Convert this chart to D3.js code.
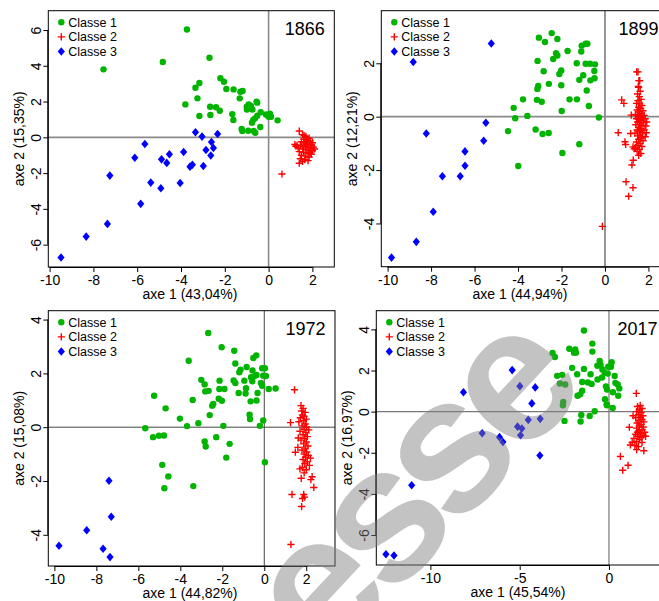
<!DOCTYPE html>
<html><head><meta charset="utf-8">
<script src="https://cdn.jsdelivr.net/npm/d3@7"></script>
<style>body{margin:0;background:#fff}svg{display:block}text{font-family:"Liberation Sans",Arial,sans-serif}</style>
</head><body><div id="chart"></div>
<script>
// ---------------- DATA ----------------
const classes = ["Classe 1", "Classe 2", "Classe 3"];
const years = ["1866", "1899", "1972", "2017"];
const xLabels = ["axe 1 (43,04%)", "axe 1 (44,94%)", "axe 1 (44,82%)", "axe 1 (45,54%)"];
const yLabels = ["axe 2 (15,35%)", "axe 2 (12,21%)", "axe 2 (15,08%)", "axe 2 (16,97%)"];
const xTicks = [[-10,-8,-6,-4,-2,0,2],[-10,-8,-6,-4,-2,0,2],[-10,-8,-6,-4,-2,0,2],[-10,-5,0]];
const yTicks = [[-6,-4,-2,0,2,4,6],[-4,-2,0,2],[-4,-2,0,2,4],[-6,-4,-2,0,2,4]];

// 1866
const c1_1866 = [[-3.73,6.03],[-7.54,3.80],[-4.83,4.21],[-2.70,4.45],[-2.20,3.31],[-2.04,3.11],[-3.16,3.04],[-3.34,2.77],[-1.93,2.70],[-1.60,2.68],[-1.29,2.55],[-1.19,2.59],[-3.25,2.18],[-1.32,2.18],[-0.55,1.99],[-0.52,1.94],[-0.91,1.84],[-1.00,1.71],[-0.81,1.75],[-0.99,1.56],[-0.74,1.56],[-3.80,1.84],[-2.67,1.71],[-2.40,1.68],[-2.23,1.49],[-2.66,1.25],[-3.16,1.19],[-1.66,1.30],[-1.61,0.97],[-0.36,1.40],[-0.12,1.28],[0.06,1.32],[0.00,1.15],[0.11,1.15],[-0.52,1.21],[-0.62,1.06],[-0.70,0.97],[0.41,0.95],[-0.76,0.82],[-0.38,0.58],[-1.23,0.47],[-1.20,0.35],[-0.93,0.37],[-0.68,0.35],[-0.61,0.26]];
const c2_1866 = [[1.40,0.35],[1.55,0.15],[1.70,0.05],[1.85,-0.05],[1.60,-0.10],[1.75,-0.15],[1.90,-0.20],[2.00,-0.30],[1.50,-0.25],[1.65,-0.30],[1.80,-0.35],[1.95,-0.40],[1.30,-0.45],[1.45,-0.45],[1.60,-0.50],[1.75,-0.55],[1.90,-0.60],[2.05,-0.55],[1.20,-0.40],[1.55,-0.65],[1.70,-0.70],[1.85,-0.75],[2.00,-0.75],[1.40,-0.80],[1.60,-0.85],[1.80,-0.90],[1.95,-0.95],[1.50,-1.00],[1.70,-1.05],[1.85,-1.10],[1.45,-1.20],[1.65,-1.25],[1.80,-1.30],[1.40,-1.45],[1.55,-1.35],[1.90,-0.85],[2.10,-0.65],[1.35,-0.60],[1.25,-0.50],[1.70,-0.40],[1.62,0.10],[1.78,-0.22],[1.92,-0.48],[0.61,-2.05]];
const c3_1866 = [[-3.34,0.28],[-2.33,0.19],[-3.04,0.04],[-5.65,-0.37],[-2.61,-0.26],[-2.52,-0.60],[-2.86,-0.71],[-3.88,-0.82],[-4.53,-0.95],[-6.11,-1.14],[-4.89,-1.23],[-4.65,-1.43],[-2.64,-1.02],[-3.48,-1.53],[-3.59,-1.64],[-2.98,-1.60],[-7.25,-2.14],[-5.38,-2.53],[-4.04,-2.55],[-4.92,-2.85],[-5.84,-3.72],[-7.36,-4.84],[-8.33,-5.55],[-9.48,-6.72]];

// 1899
const c1_1899 = [[-3.04,2.96],[-2.45,3.13],[-2.76,2.80],[-2.19,2.91],[-1.07,2.66],[-0.89,2.73],[-0.81,2.73],[-1.09,2.44],[-1.72,2.46],[-2.25,2.38],[-2.19,2.29],[-2.38,2.16],[-3.10,2.09],[-1.30,2.00],[-0.89,1.98],[-0.69,1.98],[-0.46,1.96],[-0.49,1.71],[-2.82,1.70],[-2.01,1.73],[-2.10,1.60],[-1.00,1.55],[-1.18,1.38],[-0.48,1.44],[-0.67,1.36],[-2.58,1.23],[-2.01,1.18],[-3.07,1.15],[-3.11,1.04],[-0.84,0.98],[-3.77,0.65],[-3.13,0.63],[-2.91,0.56],[-1.63,0.65],[-1.29,0.65],[-0.74,0.40],[-1.99,0.21],[-4.20,0.33],[-4.13,-0.06],[-3.57,0.03],[-0.28,-0.03],[-4.46,-0.54],[-3.19,-0.48],[-2.87,-0.65],[-2.59,-0.61],[-1.18,-1.03],[-1.96,-1.36],[-3.99,-1.85]];
const c2_1899 = [[1.52,1.68],[1.60,1.35],[1.55,1.10],[1.62,0.95],[1.50,0.85],[1.58,0.75],[1.66,0.65],[1.52,0.60],[1.45,0.50],[1.60,0.48],[1.70,0.42],[1.55,0.35],[1.64,0.30],[1.48,0.25],[1.75,0.22],[1.58,0.18],[1.68,0.12],[1.40,0.08],[1.52,0.05],[1.80,0.05],[1.62,0.00],[1.72,-0.04],[1.45,-0.08],[1.56,-0.10],[1.85,-0.08],[1.66,-0.15],[1.50,-0.20],[1.78,-0.22],[1.60,-0.28],[1.42,-0.30],[1.70,-0.33],[1.88,-0.35],[1.55,-0.40],[1.65,-0.45],[1.48,-0.50],[1.80,-0.50],[1.58,-0.55],[1.72,-0.60],[1.38,-0.62],[1.62,-0.68],[1.50,-0.72],[1.85,-0.75],[1.68,-0.80],[1.55,-0.85],[1.75,-0.90],[1.45,-0.95],[1.62,-1.00],[1.52,-1.08],[1.70,-1.12],[1.40,-1.15],[1.58,-1.22],[1.48,-1.30],[1.65,-1.38],[1.55,-1.45],[1.35,-1.20],[1.92,-0.20],[1.90,-0.60],[0.61,-0.60],[0.77,0.63],[0.87,0.50],[0.92,-0.94],[0.95,-1.04],[0.97,-2.44],[1.29,-2.66],[1.09,-2.98],[-0.12,-4.11],[1.21,0.06],[1.18,-0.63],[1.29,-1.13],[1.24,-1.81],[1.30,-1.63],[1.46,1.68],[1.56,1.35],[1.53,1.13]];
const c3_1899 = [[-5.23,2.74],[-8.82,2.05],[-8.22,-0.63],[-5.48,-0.23],[-5.58,-0.90],[-6.44,-1.30],[-6.44,-1.84],[-7.48,-2.23],[-6.66,-2.23],[-7.90,-3.56],[-8.68,-4.69],[-9.82,-5.28]];

// 1972
const c1_1972 = [[-2.67,3.50],[-2.03,2.97],[-1.43,2.84],[-3.60,2.47],[-1.38,2.37],[-0.38,2.67],[-0.52,2.57],[-0.84,2.24],[-1.13,2.14],[-1.19,2.04],[-0.10,2.19],[0.03,2.19],[-0.56,2.11],[-0.37,1.94],[-0.49,1.89],[-0.05,1.91],[0.08,1.90],[-0.63,1.86],[-0.95,1.73],[-0.57,1.71],[-1.46,1.74],[-1.38,1.64],[-3.00,1.76],[-2.84,1.59],[-2.13,1.73],[-1.22,1.27],[-0.87,1.45],[-0.89,1.25],[-0.16,1.64],[-0.10,1.54],[-0.32,1.27],[0.21,1.42],[0.54,1.44],[-2.81,1.33],[-2.65,1.35],[-2.14,1.42],[-1.90,1.42],[-0.37,0.99],[-0.65,0.96],[-5.25,1.17],[-3.41,1.01],[-2.17,1.06],[-2.02,0.98],[-2.43,0.86],[-2.48,0.80],[-4.70,0.70],[-2.60,0.45],[-0.70,0.46],[-0.68,0.30],[-4.02,0.32],[-3.14,0.15],[-3.68,0.04],[-1.95,0.05],[-0.21,0.05],[-0.05,0.25],[-5.67,-0.04],[-5.30,-0.37],[-5.02,-0.32],[-4.78,-0.31],[-2.84,-0.53],[-2.79,-0.72],[-2.29,-0.37],[-1.65,-0.62],[-1.81,-1.13],[0.03,-1.30],[-4.86,-1.40],[-4.57,-1.83],[-4.76,-2.27],[-3.38,-2.19]];
const c2_1972 = [[1.75,0.80],[1.85,0.70],[1.78,0.60],[1.95,0.55],[1.82,0.45],[1.90,0.40],[1.72,0.35],[2.00,0.30],[1.88,0.25],[1.65,0.20],[1.95,0.12],[1.80,0.05],[2.02,0.00],[1.90,-0.08],[1.70,-0.15],[1.98,-0.20],[1.85,-0.28],[2.05,-0.35],[1.92,-0.42],[1.75,-0.48],[2.00,-0.55],[1.88,-0.62],[2.08,-0.70],[1.95,-0.78],[1.80,-0.85],[2.02,-0.92],[1.90,-1.00],[2.10,-1.05],[1.97,-1.12],[1.85,-1.20],[2.05,-1.28],[1.93,-1.35],[2.15,-1.42],[1.82,-1.50],[2.00,-1.58],[1.90,-1.70],[1.76,-1.90],[2.28,-1.84],[2.22,-1.95],[2.36,-2.24],[1.48,-0.93],[1.25,0.17],[1.44,1.39],[1.32,-2.50],[1.88,-2.50],[1.92,-2.60],[1.82,-2.65],[1.78,-2.95],[1.27,-4.36],[1.62,-0.40],[2.20,-1.15],[1.70,-1.55],[2.12,-0.10],[1.60,-0.75]];
const c3_1972 = [[-7.40,-1.99],[-7.29,-3.33],[-8.46,-3.83],[-9.78,-4.41],[-7.68,-4.52],[-7.35,-4.83]];

// 2017
const c1_2017 = [[-1.40,3.95],[-0.93,3.31],[-0.93,2.92],[-2.22,3.06],[-1.89,3.03],[-1.85,2.87],[-1.96,2.87],[-3.16,2.85],[-3.03,2.66],[-0.52,2.47],[-0.47,2.27],[0.15,2.40],[0.11,2.18],[-0.04,2.18],[-0.65,2.23],[-2.06,2.13],[-1.40,2.08],[-2.62,1.79],[-2.90,1.74],[-1.78,1.82],[-1.03,1.82],[-0.37,2.05],[-0.24,1.89],[-0.39,1.66],[-0.07,1.85],[0.32,1.73],[-0.64,1.56],[-1.18,1.42],[-0.97,1.35],[-1.50,1.44],[-2.75,1.37],[-2.45,1.32],[0.36,1.40],[0.49,1.32],[0.58,1.13],[0.22,0.94],[-0.17,1.23],[-0.11,1.08],[-1.50,1.02],[-1.76,0.77],[-1.61,0.84],[-0.22,0.60],[0.52,0.77],[-2.56,0.47],[-2.58,0.31],[-0.13,0.35],[-0.11,0.31],[0.21,0.18],[-0.80,0.02],[-1.55,-0.16],[-1.08,-0.21],[-1.59,-0.48],[-2.49,-0.45]];
const c2_2017 = [[1.75,0.30],[1.60,0.25],[1.85,0.15],[1.70,0.08],[1.55,0.00],[1.80,-0.05],[1.65,-0.15],[1.90,-0.20],[1.75,-0.28],[1.50,-0.30],[1.85,-0.38],[1.68,-0.45],[1.95,-0.50],[1.58,-0.55],[1.80,-0.62],[1.70,-0.70],[1.92,-0.75],[1.55,-0.80],[1.85,-0.88],[1.65,-0.95],[2.00,-1.00],[1.75,-1.05],[1.50,-1.10],[1.90,-1.15],[1.62,-1.20],[1.80,-1.25],[2.05,-1.20],[1.40,-1.30],[1.70,-1.35],[1.55,-1.45],[1.85,-1.50],[1.30,-1.50],[1.20,-1.62],[1.45,-1.65],[1.65,-1.70],[1.95,-1.90],[1.55,-1.85],[1.53,0.89],[1.14,-0.76],[0.64,-2.18],[1.07,-2.61],[0.77,-2.85],[1.35,-0.20],[1.60,-1.00]];
const c3_2017 = [[-5.42,2.02],[-4.99,1.24],[-4.13,1.18],[-8.15,0.94],[-4.32,0.40],[-4.52,-0.40],[-3.85,-0.35],[-5.12,-0.73],[-4.88,-0.82],[-4.95,-1.15],[-7.10,-1.05],[-6.13,-1.24],[-5.94,-1.48],[-3.87,-2.13],[-11.05,-3.58],[-12.49,-6.94],[-12.04,-7.00]];

const watermark = "esse";

// ---------------- LAYOUT ----------------
const panelData = [[c1_1866,c2_1866,c3_1866],[c1_1899,c2_1899,c3_1899],[c1_1972,c2_1972,c3_1972],[c1_2017,c2_2017,c3_2017]];
const boxes = [
  {l:48.3,r:334.3,t:10.7,b:267,  xd:[-10.06,3.0], yd:[-7.25,7.08], zc:"#8a8a8a", zw:1.6, tx:190},
  {l:381.3,r:668,t:10.7,b:266.7, xd:[-10.29,2.90], yd:[-5.62,3.97], zc:"#8a8a8a", zw:1.8, tx:520},
  {l:48.3,r:335,t:310.7,b:566,   xd:[-10.29,3.37], yd:[-5.16,4.33], zc:"#444", zw:1, tx:190},
  {l:376.3,r:667,t:310.7,b:565,  xd:[-13.03,3.25], yd:[-7.46,4.91], zc:"#777", zw:1.2, tx:518}
];
const colors = ["#00b400", "#ff0000", "#0000ff"];

const svg = d3.select("#chart").append("svg").attr("width",659).attr("height",601);

function marker(g, k, x, y) {
  if (k===0) g.append("circle").attr("cx",x).attr("cy",y).attr("r",3.2).attr("fill",colors[0]);
  else if (k===1) g.append("path").attr("d",`M${x-3.6},${y}H${x+3.6}M${x},${y-3.6}V${y+3.6}`).attr("stroke",colors[1]).attr("stroke-width",1.4).attr("fill","none");
  else g.append("path").attr("d",`M${x},${y-4.3}L${x+3.6},${y}L${x},${y+4.3}L${x-3.6},${y}Z`).attr("fill",colors[2]);
}

boxes.forEach((B,i)=>{
  const g = svg.append("g");
  const x = d3.scaleLinear().domain(B.xd).range([B.l,B.r]);
  const y = d3.scaleLinear().domain(B.yd).range([B.b,B.t]);
  const cid = "clip"+i;
  svg.append("clipPath").attr("id",cid).append("rect").attr("x",B.l).attr("y",B.t).attr("width",B.r-B.l).attr("height",B.b-B.t);
  const inner = g.append("g").attr("clip-path",`url(#${cid})`);
  inner.append("line").attr("x1",x(0)).attr("x2",x(0)).attr("y1",B.t).attr("y2",B.b).attr("stroke",B.zc).attr("stroke-width",B.zw);
  inner.append("line").attr("x1",B.l).attr("x2",B.r).attr("y1",y(0)).attr("y2",y(0)).attr("stroke",B.zc).attr("stroke-width",B.zw);
  [0,2,1].forEach(k=>{
    panelData[i][k].forEach(p=>marker(inner,k,x(p[0]),y(p[1])));
  });
  g.append("rect").attr("x",B.l).attr("y",B.t).attr("width",B.r-B.l).attr("height",B.b-B.t).attr("fill","none").attr("stroke","#000").attr("stroke-width",1);
  const xa = g.append("g").attr("transform",`translate(0,${B.b})`)
    .call(d3.axisBottom(x).tickValues(xTicks[i]).tickSize(5).tickPadding(3).tickFormat(d=>String(d)));
  xa.select(".domain").attr("d",`M${x(xTicks[i][0])},0.5H${x(xTicks[i][xTicks[i].length-1])}`);
  xa.selectAll("text").attr("font-size",14).attr("font-family","Liberation Sans, Arial, sans-serif").attr("fill","#000");
  const ya = g.append("g").attr("transform",`translate(${B.l},0)`)
    .call(d3.axisLeft(y).tickValues(yTicks[i]).tickSize(5).tickFormat(d=>String(d)));
  ya.select(".domain").attr("d",`M-0.5,${y(yTicks[i][0])}V${y(yTicks[i][yTicks[i].length-1])}`);
  ya.selectAll("text").attr("font-size",14).attr("font-family","Liberation Sans, Arial, sans-serif").attr("fill","#000")
    .attr("x",null).attr("dy",null).attr("text-anchor","middle")
    .attr("transform","translate(-7,0) rotate(-90)");
  g.append("text").attr("x",B.tx).attr("y",B.b+32)
    .attr("text-anchor","middle").attr("font-size",14).text(xLabels[i]);
  const ty = (B.t+B.b)/2;
  g.append("text").attr("transform",`translate(${B.l-24},${ty}) rotate(-90)`).attr("text-anchor","middle").attr("font-size",14).text(yLabels[i]);
  g.append("text").attr("x",B.r-9.5).attr("y",B.t+24.5).attr("text-anchor","end").attr("font-size",18).text(years[i]);
  classes.forEach((c,k)=>{
    const ly = B.t + 11.6 + k*14.6;
    marker(g,k,B.l+13,ly);
    g.append("text").attr("x",B.l+20).attr("y",ly+4.5).attr("font-size",12.5).text(c);
  });
});

// watermark
svg.append("text").attr("transform","translate(455,531) rotate(-47)")
  .attr("text-anchor","middle").attr("font-size",192).attr("font-weight","bold").attr("letter-spacing",-12)
  .attr("fill","#808080").attr("fill-opacity",0.47).text(watermark);
</script></body></html>
